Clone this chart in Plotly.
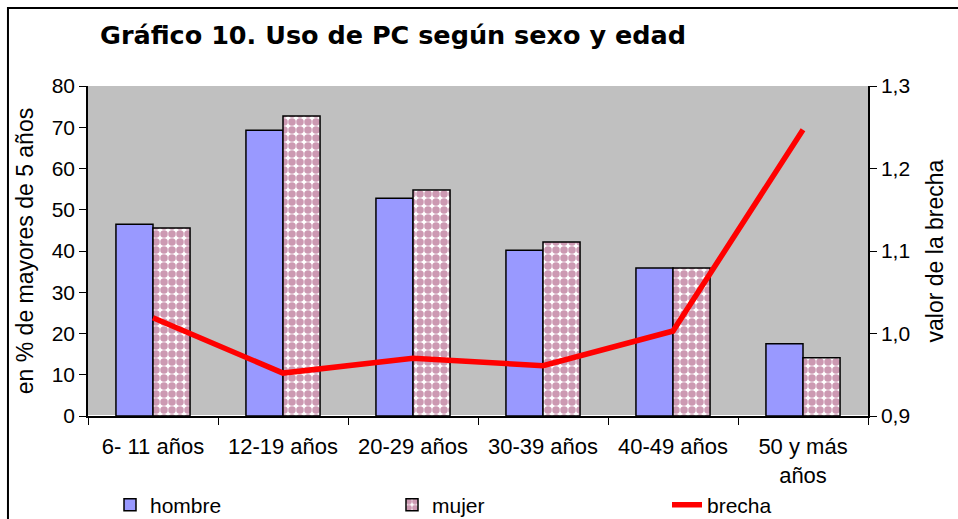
import plotly.graph_objects as go

# datos
categorias = ["6- 11 años", "12-19 años", "20-29 años", "30-39 años", "40-49 años", "50 y más<br>años"]
hombre = [46.5, 69.3, 52.8, 40.2, 35.9, 17.5]
mujer = [45.6, 72.7, 54.8, 42.2, 35.9, 14.1]
brecha = [1.019, 0.952, 0.970, 0.961, 1.003, 1.247]

fig = go.Figure()

fig.add_trace(go.Bar(
    x=categorias, y=hombre, name="hombre",
    marker=dict(color="#9999FF", line=dict(color="black", width=1.5)),
))
fig.add_trace(go.Bar(
    x=categorias, y=mujer, name="mujer",
    marker=dict(color="white", line=dict(color="black", width=1.5),
                pattern=dict(shape=".", fgcolor="#993366", bgcolor="white",
                             size=8, solidity=0.7)),
))
fig.add_trace(go.Scatter(
    x=categorias, y=brecha, name="brecha", yaxis="y2", legend="legend2",
    mode="lines", line=dict(color="#FF0000", width=5.5),
))

txt = "Liberation Sans, Arial"
axis_font = dict(family=txt, size=21, color="black")
title_font = dict(family=txt, size=23, color="black")
legend_y = 1 - 505/519

fig.update_layout(
    width=958, height=519,
    margin=dict(l=88, r=90, t=86, b=103, autoexpand=False),
    paper_bgcolor="white",
    plot_bgcolor="#C0C0C0",
    barmode="group",
    bargap=0.43,
    bargroupgap=0,
    font=axis_font,
    title=dict(text="<b>Gráfico 10. Uso de PC según sexo y edad</b>",
               font=dict(family="DejaVu Sans, Verdana", size=25.5, color="black"),
               x=100/958, xanchor="left", y=1-35/519, yanchor="middle"),
    xaxis=dict(
        showline=True, linecolor="black", linewidth=1.5,
        ticks="outside", tickson="boundaries", ticklen=7, tickcolor="black",
        ticklabelstandoff=10,
        showgrid=False, tickfont=dict(family=txt, size=22), automargin=False,
    ),
    yaxis=dict(
        range=[0, 80], dtick=10, showgrid=False,
        showline=True, linecolor="black", linewidth=1.5,
        ticks="outside", ticklen=7, tickcolor="black",
        tickfont=axis_font, automargin=False,
        title=dict(text="en % de mayores de 5 años", font=title_font, standoff=12),
    ),
    yaxis2=dict(
        range=[0.9, 1.3], dtick=0.1, tickformat=".1f",
        overlaying="y", side="right", showgrid=False,
        showline=True, linecolor="black", linewidth=1.5,
        ticks="outside", ticklen=7, tickcolor="black",
        tickfont=axis_font, automargin=False,
        title=dict(text="valor de la brecha", font=title_font, standoff=18),
    ),
    separators=",.",
    legend=dict(orientation="h", xref="container", yref="container",
                x=110/958, xanchor="left", y=legend_y, yanchor="middle",
                font=dict(family=txt, size=21),
                entrywidth=237, entrywidthmode="pixels",
                bgcolor="rgba(0,0,0,0)"),
    legend2=dict(orientation="h", xref="container", yref="container",
                 x=667/958, xanchor="left", y=legend_y, yanchor="middle",
                 font=dict(family=txt, size=21),
                 bgcolor="rgba(0,0,0,0)"),
    shapes=[dict(type="rect", xref="paper", yref="paper",
                 x0=-0.1026, x1=1.14, y0=1.236, y1=-0.45,
                 line=dict(color="black", width=2), layer="above")],
)

fig.write_html("out.html", config={"displayModeBar": False},
               post_script="document.body.style.margin='0px';")
